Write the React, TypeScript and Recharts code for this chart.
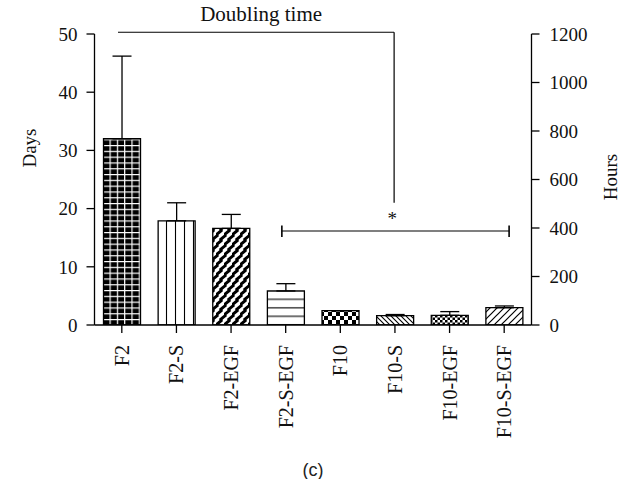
import React from 'react';
import {
  ComposedChart,
  Bar,
  Cell,
  XAxis,
  YAxis,
  ErrorBar,
  ReferenceLine,
  ReferenceDot,
} from 'recharts';

const categories = ['F2', 'F2-S', 'F2-EGF', 'F2-S-EGF', 'F10', 'F10-S', 'F10-EGF', 'F10-S-EGF'];
const daysValues = [32.0, 17.9, 16.6, 5.85, 2.46, 1.6, 1.66, 2.97];
const upperErrors = [14.2, 3.1, 2.4, 1.25, 0.0, 0.2, 0.64, 0.3];
const slotPositions = [0.5, 1.5, 2.5, 3.5, 4.5, 5.5, 6.5, 7.5];
const patternIds = ['pGrid', 'pVLines', 'pDashHatch', 'pHLines', 'pChecker', 'pBackslash', 'pFineChecker', 'pSlash'];
const daysTicks = [0, 10, 20, 30, 40, 50];
const hoursTicks = [0, 200, 400, 600, 800, 1000, 1200];

const data = categories.map((name, i) => ({
  name,
  slot: slotPositions[i],
  days: daysValues[i],
  err: [0, upperErrors[i]],
}));

const FONT = '"Liberation Serif", "Times New Roman", serif';
const tickStyle = { fill: '#111', fontSize: 19, fontFamily: FONT };

const XTick = (props: any) => {
  const { x, y, payload } = props;
  return (
    <g transform={`translate(${x},${y})`}>
      <text transform="rotate(-90)" textAnchor="end" dy="0.35em" fill="#111" fontSize={20} fontFamily={FONT}>
        {payload.value}
      </text>
    </g>
  );
};

export default function App() {
  return (
    <div style={{ position: 'absolute', left: 0, top: 0, width: 619, height: 479, overflow: 'hidden' }}>
      <ComposedChart
        width={619}
        height={479}
        data={data}
        margin={{ top: 34, right: 27.5, bottom: 64, left: 34.5 }}
        barCategoryGap="16.5%"
      >
        <defs>
          <pattern id="pGrid" patternUnits="userSpaceOnUse" width={7.3} height={5.8}>
            <rect width={7.3} height={5.8} fill="#000" />
            <line x1={0.6} y1={0} x2={0.6} y2={5.8} stroke="#fff" strokeWidth={1.2} />
            <line x1={0} y1={0.6} x2={7.3} y2={0.6} stroke="#fff" strokeWidth={1.2} />
          </pattern>
          <pattern id="pVLines" patternUnits="userSpaceOnUse" width={9} height={10}>
            <rect width={9} height={10} fill="#fff" />
            <line x1={4.5} y1={0} x2={4.5} y2={10} stroke="#000" strokeWidth={1.1} />
          </pattern>
          <pattern id="pDashHatch" patternUnits="userSpaceOnUse" width={8} height={10}>
            <rect width={8} height={10} fill="#fff" />
            <path
              d="M1,4.2 L5,0.8 M5,9.2 L9,5.8 M-3,9.2 L1,5.8"
              stroke="#000"
              strokeWidth={3}
              strokeLinecap="square"
            />
          </pattern>
          <pattern id="pHLines" patternUnits="userSpaceOnUse" width={10} height={8.5}>
            <rect width={10} height={8.5} fill="#fff" />
            <line x1={0} y1={1.8} x2={10} y2={1.8} stroke="#000" strokeWidth={1.1} />
          </pattern>
          <pattern id="pChecker" patternUnits="userSpaceOnUse" width={8} height={8}>
            <rect width={8} height={8} fill="#fff" />
            <rect x={0} y={0} width={4} height={4} fill="#000" />
            <rect x={4} y={4} width={4} height={4} fill="#000" />
          </pattern>
          <pattern id="pBackslash" patternUnits="userSpaceOnUse" width={5} height={5}>
            <rect width={5} height={5} fill="#fff" />
            <path d="M0,0 L5,5 M-1,4 L1,6 M4,-1 L6,1" stroke="#000" strokeWidth={1.1} />
          </pattern>
          <pattern id="pFineChecker" patternUnits="userSpaceOnUse" width={5} height={5}>
            <rect width={5} height={5} fill="#fff" />
            <rect x={0} y={0} width={2.5} height={2.5} fill="#000" />
            <rect x={2.5} y={2.5} width={2.5} height={2.5} fill="#000" />
          </pattern>
          <pattern id="pSlash" patternUnits="userSpaceOnUse" width={7} height={7}>
            <rect width={7} height={7} fill="#fff" />
            <path d="M0,7 L7,0 M-1,1 L1,-1 M6,8 L8,6" stroke="#000" strokeWidth={1.2} />
          </pattern>
        </defs>

        <XAxis
          xAxisId="cat"
          dataKey="name"
          type="category"
          height={90}
          tickSize={8}
          tickMargin={12}
          interval={0}
          tick={<XTick />}
          axisLine={{ stroke: '#000', strokeWidth: 1.3 }}
          tickLine={{ stroke: '#000', strokeWidth: 1.3 }}
          label={{
            content: (p: any) => {
              const vb = p.viewBox || { x: 94.5, width: 437 };
              return (
                <text
                  x={vb.x + vb.width / 2}
                  y={470}
                  textAnchor="middle"
                  dominantBaseline="central"
                  fill="#222"
                  fontSize={18}
                  fontFamily='"Liberation Sans", Arial, sans-serif'
                >
                  (c)
                </text>
              );
            },
          }}
        />
        <XAxis
          xAxisId="ann"
          dataKey="slot"
          type="number"
          orientation="top"
          domain={[0, 8]}
          allowDataOverflow
          hide
        />

        <YAxis
          yAxisId="days"
          orientation="left"
          domain={[0, 50]}
          ticks={daysTicks}
          allowDataOverflow
          width={60}
          tickSize={8}
          tickMargin={9}
          tick={tickStyle}
          axisLine={{ stroke: '#000', strokeWidth: 1.3 }}
          tickLine={{ stroke: '#000', strokeWidth: 1.3 }}
          label={{
            content: () => (
              <text
                x={29}
                y={148}
                transform="rotate(-90, 29, 148)"
                textAnchor="middle"
                dominantBaseline="central"
                fill="#111"
                fontSize={19}
                fontFamily={FONT}
              >
                Days
              </text>
            ),
          }}
        />
        <YAxis
          yAxisId="hours"
          orientation="right"
          domain={[0, 1200]}
          ticks={hoursTicks}
          allowDataOverflow
          width={60}
          tickSize={8}
          tickMargin={10}
          tick={tickStyle}
          axisLine={{ stroke: '#000', strokeWidth: 1.3 }}
          tickLine={{ stroke: '#000', strokeWidth: 1.3 }}
          label={{
            content: () => (
              <text
                x={610}
                y={177}
                transform="rotate(-90, 610, 177)"
                textAnchor="middle"
                dominantBaseline="central"
                fill="#111"
                fontSize={19}
                fontFamily={FONT}
              >
                Hours
              </text>
            ),
          }}
        />

        <Bar
          xAxisId="cat"
          yAxisId="days"
          dataKey="days"
          stroke="#000"
          strokeWidth={1.3}
          isAnimationActive={false}
        >
          {data.map((d, i) => (
            <Cell key={d.name} fill={`url(#${patternIds[i]})`} />
          ))}
          <ErrorBar dataKey="err" direction="y" width={9.5} stroke="#000" strokeWidth={1.3} isAnimationActive={false} />
        </Bar>

        <ReferenceLine
          xAxisId="ann"
          yAxisId="days"
          segment={[{ x: 0.43, y: 50.3 }, { x: 5.485, y: 50.3 }]}
          stroke="#000"
          strokeWidth={1.2}
          ifOverflow="visible"
        />
        <ReferenceLine
          xAxisId="ann"
          yAxisId="days"
          segment={[{ x: 5.485, y: 50.3 }, { x: 5.485, y: 21.0 }]}
          stroke="#000"
          strokeWidth={1.2}
          ifOverflow="visible"
        />
        <ReferenceLine
          xAxisId="ann"
          yAxisId="days"
          segment={[{ x: 3.43, y: 16.15 }, { x: 7.59, y: 16.15 }]}
          stroke="#000"
          strokeWidth={1.2}
          ifOverflow="visible"
        />
        <ReferenceLine
          xAxisId="ann"
          yAxisId="days"
          segment={[{ x: 3.43, y: 17.1 }, { x: 3.43, y: 15.1 }]}
          stroke="#000"
          strokeWidth={1.6}
          ifOverflow="visible"
        />
        <ReferenceLine
          xAxisId="ann"
          yAxisId="days"
          segment={[{ x: 7.59, y: 17.1 }, { x: 7.59, y: 15.1 }]}
          stroke="#000"
          strokeWidth={1.6}
          ifOverflow="visible"
        />
        <ReferenceDot
          xAxisId="ann"
          yAxisId="days"
          x={3.05}
          y={53.6}
          r={0}
          fill="none"
          stroke="none"
          ifOverflow="visible"
          label={{ value: 'Doubling time', position: 'center', fill: '#111', fontSize: 21, fontFamily: FONT }}
        />
        <ReferenceDot
          xAxisId="ann"
          yAxisId="days"
          x={5.45}
          y={18.3}
          r={0}
          fill="none"
          stroke="none"
          ifOverflow="visible"
          label={{ value: '*', position: 'center', fill: '#111', fontSize: 19, fontFamily: FONT }}
        />
      </ComposedChart>
    </div>
  );
}
